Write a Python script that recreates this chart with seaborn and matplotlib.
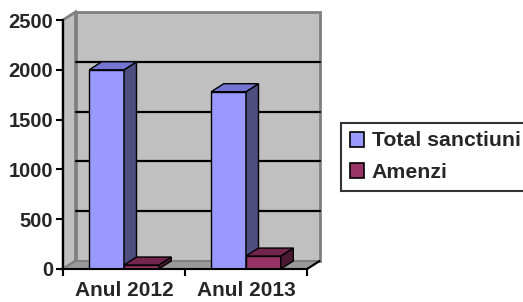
import pandas as pd
import matplotlib
matplotlib.use("Agg")
import matplotlib.pyplot as plt
import seaborn as sns
from matplotlib.patches import Polygon, Patch

# data
ani = ["Anul 2012", "Anul 2013"]
serii = ["Total sanctiuni", "Amenzi"]
total_sanctiuni = [2000, 1780]
amenzi = [40, 130]
yticks = [0, 500, 1000, 1500, 2000, 2500]

df = pd.DataFrame({
    "an": ani * 2,
    "serie": [serii[0]] * 2 + [serii[1]] * 2,
    "valoare": total_sanctiuni + amenzi,
})

culori_fata = ["#9999FF", "#993366"]
culori_lateral = ["#4D4D80", "#4D1A33"]
culori_sus = ["#7474D2", "#73264D"]

sns.set_theme(style="white")
plt.rcParams["font.family"] = ["Liberation Sans", "DejaVu Sans"]
plt.rcParams["font.weight"] = "bold"

fig = plt.figure(figsize=(5.23, 3.02), dpi=100)
ax = fig.add_axes([63 / 523, 33 / 302, 244 / 523, 249 / 302])
ax.patch.set_visible(False)

sns.barplot(data=df, x="an", y="valoare", hue="serie", palette=culori_fata,
            width=0.57, edgecolor="black", linewidth=1, saturation=1,
            legend=False, ax=ax)

ax.set_xlim(-0.5, 1.5)
ax.set_ylim(0, 2500)

# depth of the fake 3D effect (about 12 px right, 8 px up)
ddx = 12.5 / 244 * 2
ddy = 8 / 249 * 2500
x0, x1 = ax.get_xlim()
y0, y1 = ax.get_ylim()

# walls and floor
perete = Polygon([(x0 + ddx, y0 + ddy), (x1 + ddx, y0 + ddy), (x1 + ddx, y1 + ddy), (x0 + ddx, y1 + ddy)],
                 closed=True, facecolor="#C0C0C0", edgecolor="#808080", lw=2, zorder=0.5, clip_on=False)
lateral = Polygon([(x0, y0), (x0 + ddx, y0 + ddy), (x0 + ddx, y1 + ddy), (x0, y1)],
                  closed=True, facecolor="#C0C0C0", edgecolor="#808080", lw=2, zorder=0.5, clip_on=False)
podea = Polygon([(x0, y0), (x1, y0), (x1 + ddx, y0 + ddy), (x0 + ddx, y0 + ddy)],
                closed=True, facecolor="#9A9A9A", edgecolor="#808080", lw=1.5, zorder=0.6, clip_on=False)
for p in (perete, lateral, podea):
    ax.add_patch(p)

for yv in yticks[1:-1]:
    ax.plot([x0 + ddx, x1 + ddx], [yv + ddy, yv + ddy], color="black", lw=1.6, zorder=0.7, clip_on=False)

# side and top faces of the bars
for i, cont in enumerate(ax.containers):
    for bar in cont:
        bx, by = bar.get_x(), bar.get_y()
        w, h = bar.get_width(), bar.get_height()
        bar.set_zorder(2 + i)
        side = Polygon([(bx + w, by), (bx + w + ddx, by + ddy), (bx + w + ddx, by + h + ddy), (bx + w, by + h)],
                       closed=True, facecolor=culori_lateral[i], edgecolor="black", lw=1, zorder=2 + i, clip_on=False)
        top = Polygon([(bx, by + h), (bx + w, by + h), (bx + w + ddx, by + h + ddy), (bx + ddx, by + h + ddy)],
                      closed=True, facecolor=culori_sus[i], edgecolor="black", lw=1, zorder=2 + i, clip_on=False)
        ax.add_patch(side)
        ax.add_patch(top)

# axes
for s in ("top", "right"):
    ax.spines[s].set_visible(False)
for s in ("left", "bottom"):
    ax.spines[s].set_color("black")
    ax.spines[s].set_linewidth(1.5)
    ax.spines[s].set_zorder(5)
ax.plot([x1, x1 + ddx], [y0, y0 + ddy], color="black", lw=1.5, zorder=5, clip_on=False)

ax.set_yticks(yticks)
ax.set_yticklabels([str(v) for v in yticks], fontsize=14.5, fontweight="bold")
ax.tick_params(axis="y", which="major", left=True, length=5, width=1.5, color="black", pad=2)
ax.set_xticks([0, 1])
ax.set_xticklabels(ani, fontsize=15, fontweight="bold")
ax.set_xticks([-0.5, 0.5, 1.5], minor=True)
ax.tick_params(axis="x", which="major", length=0, pad=9)
ax.tick_params(axis="x", which="minor", bottom=True, length=5, width=1.5, color="black")
ax.set_xlabel("")
ax.set_ylabel("")

# legend
handles = [Patch(facecolor=c, edgecolor="black", lw=1.2) for c in culori_fata]
leg = fig.legend(handles, serii, loc="upper left", bbox_to_anchor=(341 / 523, 1 - 123 / 302),
                 borderaxespad=0, frameon=True, fancybox=False, handlelength=0.7, handleheight=0.7,
                 handletextpad=0.35, labelspacing=0.6, borderpad=0.4,
                 prop={"size": 15.3, "weight": "bold"})
leg.get_frame().set_edgecolor("black")
leg.get_frame().set_linewidth(1.5)

fig.savefig("out.png", dpi=100)
